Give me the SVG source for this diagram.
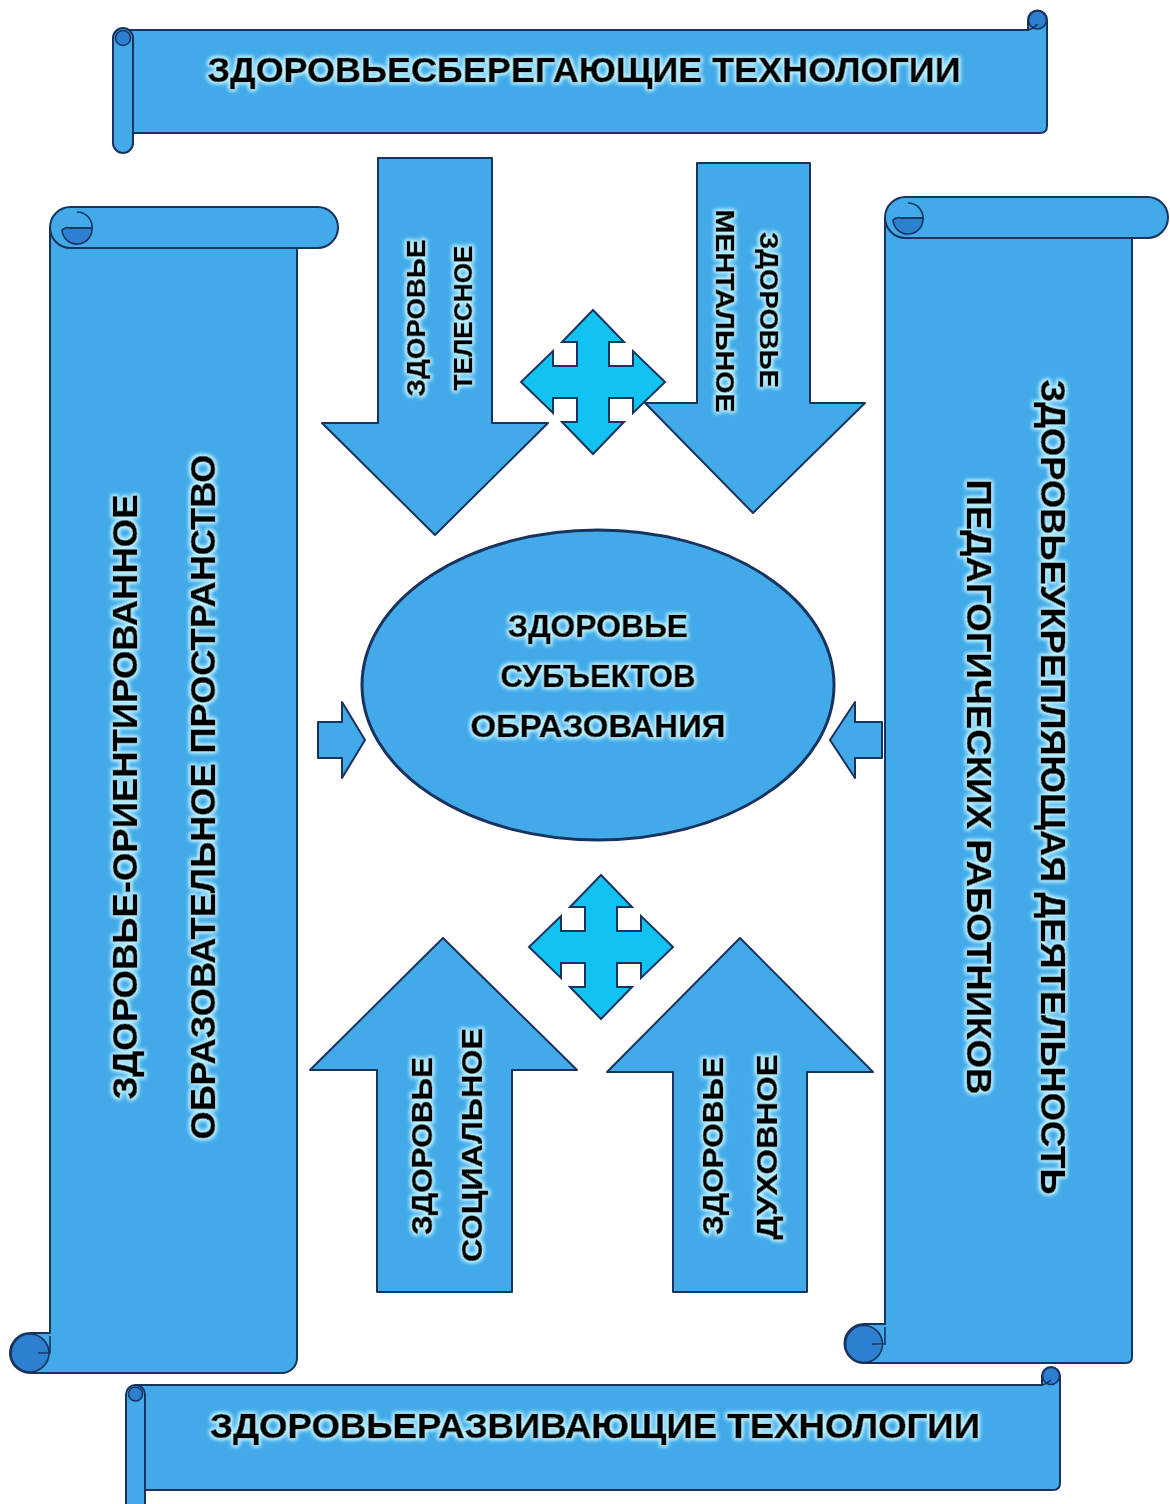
<svg xmlns="http://www.w3.org/2000/svg" xmlns:xlink="http://www.w3.org/1999/xlink" width="1170" height="1504" viewBox="0 0 1170 1504">
  <defs>
    <style>
      .blue { fill: #42aae9; stroke: #17335e; stroke-width: 2; stroke-linejoin: round; }
      .roll { fill: #2d7fcf; stroke: #17335e; stroke-width: 1.6; }
      .edge { fill: none; stroke: #17335e; stroke-width: 1.6; }
      .cyan { fill: #12c3f1; stroke: #17335e; stroke-width: 2; stroke-linejoin: miter; }
      .lbl { font-family: "Liberation Sans", Arial, sans-serif; font-weight: bold; fill: #000; stroke: #000; stroke-width: 0.7; text-anchor: middle; filter: url(#glow); }
      .big { font-size: 35px; }
      .mid { font-size: 31px; }
      .sm { font-size: 26px; }
      .up { font-size: 29px; }
    </style>
    <!-- light halo behind the black lettering -->
    <filter id="glow" x="-20%" y="-60%" width="140%" height="220%">
      <feMorphology in="SourceAlpha" operator="dilate" radius="1.2" result="thick"/>
      <feGaussianBlur in="thick" stdDeviation="2" result="soft"/>
      <feFlood flood-color="#bff2ff"/>
      <feComposite in2="soft" operator="in" result="halo"/>
      <feMerge>
        <feMergeNode in="halo"/>
        <feMergeNode in="halo"/>
        <feMergeNode in="SourceGraphic"/>
      </feMerge>
    </filter>
    <!-- four-headed arrow, centred on 0,0 -->
    <path id="quad" d="M0,-72 L31,-40 16,-40 16,-16 40,-16 40,-31 72,0 40,31 40,16 16,16 16,40 31,40 0,72 -31,40 -16,40 -16,16 -40,16 -40,31 -72,0 -40,-31 -40,-16 -16,-16 -16,-40 -31,-40 Z"/>
  </defs>

  <rect width="1170" height="1504" fill="#ffffff"/>

  <!-- top horizontal scroll -->
  <g id="scroll-top">
    <path class="blue" d="M123,30 H1028 V20 A9.5,9.5 0 0 1 1047,20 V126 Q1047,133 1040,133 H123 Z"/>
    <circle class="roll" cx="1037.5" cy="20" r="9"/>
    <path class="edge" d="M1028,30 Q1033,29 1037.5,24"/>
    <rect class="blue" x="113" y="28" width="20" height="125" rx="10"/>
    <circle class="roll" cx="123" cy="38" r="7.5"/>
    <text class="lbl big" x="584" y="82" textLength="753" lengthAdjust="spacingAndGlyphs">ЗДОРОВЬЕСБЕРЕГАЮЩИЕ ТЕХНОЛОГИИ</text>
  </g>

  <!-- bottom horizontal scroll -->
  <g id="scroll-bottom">
    <path class="blue" d="M135,1385 H1042 V1376 A9,9 0 0 1 1060,1376 V1483 Q1060,1490 1053,1490 H135 Z"/>
    <circle class="roll" cx="1051" cy="1376" r="8.5"/>
    <path class="edge" d="M1042,1385 Q1047,1384 1051,1380"/>
    <rect class="blue" x="126" y="1385" width="19" height="135" rx="9.5"/>
    <circle class="roll" cx="135.5" cy="1394" r="7"/>
    <text class="lbl big" x="595" y="1438" textLength="770" lengthAdjust="spacingAndGlyphs">ЗДОРОВЬЕРАЗВИВАЮЩИЕ ТЕХНОЛОГИИ</text>
  </g>

  <!-- left vertical scroll -->
  <g id="scroll-left">
    <path class="blue" d="M50,228 H297 V1358 A15,15 0 0 1 282,1373 H30 A20,20 0 0 1 30,1333 H50 Z"/>
    <circle class="roll" cx="30" cy="1353" r="19"/>
    <path class="blue" d="M50,1335 V1353 H40 A9,9 0 0 0 50,1335 Z" style="stroke:none"/>
    <path class="edge" d="M50,1336 V1353 H38"/>
    <rect class="blue" x="50" y="207" width="288" height="41" rx="20.5"/>
    <path class="roll" d="M92,228 A15,15 0 0 1 62,230 A8,8 0 0 1 70,228 Z"/>
    <path class="edge" d="M70,228 H92 A15,15 0 0 0 77,212"/>
    <text class="lbl big" transform="translate(137,797) rotate(-90)" textLength="605" lengthAdjust="spacingAndGlyphs">ЗДОРОВЬЕ-ОРИЕНТИРОВАННОЕ</text>
    <text class="lbl big" transform="translate(215,797) rotate(-90)" textLength="685" lengthAdjust="spacingAndGlyphs">ОБРАЗОВАТЕЛЬНОЕ ПРОСТРАНСТВО</text>
  </g>

  <!-- right vertical scroll -->
  <g id="scroll-right">
    <path class="blue" d="M885,218 H1132 V1357 Q1132,1363 1126,1363 H864 A19.5,19.5 0 0 1 864,1324 H885 Z"/>
    <circle class="roll" cx="864" cy="1344" r="18.5"/>
    <path class="blue" d="M885,1326 V1344 H874 A9,9 0 0 0 885,1326 Z" style="stroke:none"/>
    <path class="edge" d="M885,1327 V1344 H872"/>
    <rect class="blue" x="885" y="197" width="283" height="41" rx="20.5"/>
    <path class="roll" d="M923,218 A15,15 0 0 1 893,220 A8,8 0 0 1 901,218 Z"/>
    <path class="edge" d="M901,218 H923 A15,15 0 0 0 908,203"/>
    <text class="lbl big" transform="translate(1041,787) rotate(90)" textLength="815" lengthAdjust="spacingAndGlyphs">ЗДОРОВЬЕУКРЕПЛЯЮЩАЯ ДЕЯТЕЛЬНОСТЬ</text>
    <text class="lbl big" transform="translate(967,787) rotate(90)" textLength="615" lengthAdjust="spacingAndGlyphs">ПЕДАГОГИЧЕСКИХ РАБОТНИКОВ</text>
  </g>

  <!-- block arrows and the centre -->
  <g id="arrow-body">
    <polygon class="blue" points="378,158 492,158 492,423 548,423 435,535 322,423 378,423"/>
    <text class="lbl sm" transform="translate(425,318) rotate(-90)" textLength="157" lengthAdjust="spacingAndGlyphs">ЗДОРОВЬЕ</text>
    <text class="lbl sm" transform="translate(472,318) rotate(-90)" textLength="145" lengthAdjust="spacingAndGlyphs">ТЕЛЕСНОЕ</text>
  </g>

  <g id="arrow-mental">
    <polygon class="blue" points="697,163 810,163 810,403 865,403 753,513 645,403 697,403"/>
    <text class="lbl sm" transform="translate(760,310) rotate(90)" textLength="156" lengthAdjust="spacingAndGlyphs">ЗДОРОВЬЕ</text>
    <text class="lbl sm" transform="translate(716,311) rotate(90)" textLength="203" lengthAdjust="spacingAndGlyphs">МЕНТАЛЬНОЕ</text>
  </g>

  <g id="arrow-social">
    <polygon class="blue" points="443,938 577,1070 512,1070 512,1292 377,1292 377,1070 310,1070"/>
    <text class="lbl up" transform="translate(432,1146) rotate(-90)" textLength="178" lengthAdjust="spacingAndGlyphs">ЗДОРОВЬЕ</text>
    <text class="lbl up" transform="translate(482,1145) rotate(-90)" textLength="234" lengthAdjust="spacingAndGlyphs">СОЦИАЛЬНОЕ</text>
  </g>

  <g id="arrow-spiritual">
    <polygon class="blue" points="740,938 873,1072 807,1072 807,1292 673,1292 673,1072 607,1072"/>
    <text class="lbl up" transform="translate(723,1146) rotate(-90)" textLength="178" lengthAdjust="spacingAndGlyphs">ЗДОРОВЬЕ</text>
    <text class="lbl up" transform="translate(777,1147) rotate(-90)" textLength="185" lengthAdjust="spacingAndGlyphs">ДУХОВНОЕ</text>
  </g>

  <g id="center">
    <ellipse class="blue" cx="598" cy="685" rx="236" ry="155" style="stroke-width:3"/>
    <text class="lbl mid" x="598" y="637" textLength="180" lengthAdjust="spacingAndGlyphs">ЗДОРОВЬЕ</text>
    <text class="lbl mid" x="598" y="687" textLength="195" lengthAdjust="spacingAndGlyphs">СУБЪЕКТОВ</text>
    <text class="lbl mid" x="598" y="737" textLength="255" lengthAdjust="spacingAndGlyphs">ОБРАЗОВАНИЯ</text>
  </g>

  <g id="quad-top">
    <use xlink:href="#quad" class="cyan" transform="translate(593,382)"/>
  </g>
  <g id="quad-bottom">
    <use xlink:href="#quad" class="cyan" transform="translate(601,947)"/>
  </g>

  <!-- short arrows pointing at the centre from both sides -->
  <g id="connectors">
    <polygon class="blue" points="318,722 342,722 342,702 365,740 342,778 342,758 318,758"/>
    <polygon class="blue" points="882,722 855,722 855,702 830,740 855,778 855,758 882,758"/>
  </g>
</svg>
